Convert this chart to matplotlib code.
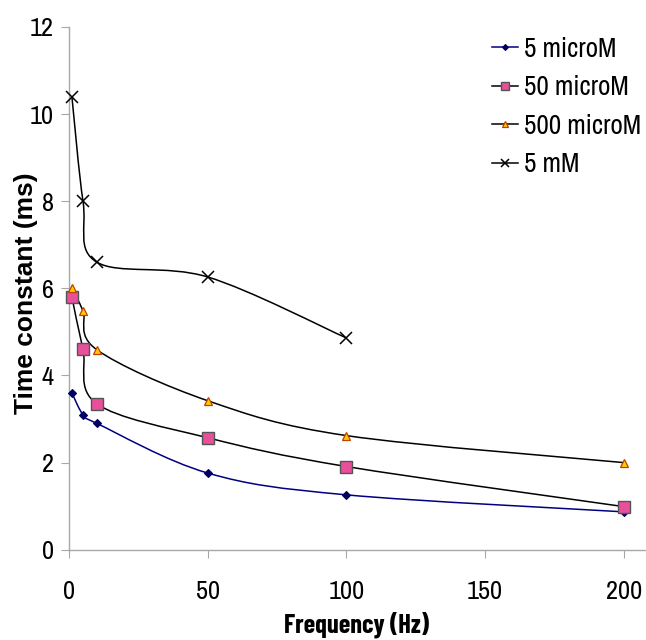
import matplotlib
matplotlib.use("Agg")
import matplotlib.pyplot as plt
from matplotlib.path import Path
from matplotlib.patches import PathPatch
from matplotlib.lines import Line2D

plt.rcParams["font.family"] = ["Archivo Narrow", "Liberation Sans", "DejaVu Sans"]

# data
freq_hz = [1, 5, 10, 50, 100, 200]
freq_5mm = [1, 5, 10, 50, 100]

tc_5um = [3.6, 3.1, 2.9, 1.76, 1.26, 0.87]
tc_50um = [5.8, 4.6, 3.35, 2.57, 1.91, 0.99]
tc_500um = [6.0, 5.48, 4.59, 3.42, 2.62, 2.0]
tc_5mm = [10.4, 8.0, 6.6, 6.26, 4.86]

series_labels = ["5 microM", "50 microM", "500 microM", "5 mM"]
x_ticks = [0, 50, 100, 150, 200]
y_ticks = [0, 2, 4, 6, 8, 10, 12]


def smooth_path(xs, ys):
    # Excel-like smoothed line: Catmull-Rom segments as cubic Bezier curves
    pts = list(zip(xs, ys))
    verts = [pts[0]]
    codes = [Path.MOVETO]
    n = len(pts)
    for i in range(n - 1):
        p0 = pts[max(i - 1, 0)]
        p1 = pts[i]
        p2 = pts[i + 1]
        p3 = pts[min(i + 2, n - 1)]
        c1 = (p1[0] + (p2[0] - p0[0]) / 6, p1[1] + (p2[1] - p0[1]) / 6)
        c2 = (p2[0] - (p3[0] - p1[0]) / 6, p2[1] - (p3[1] - p1[1]) / 6)
        verts += [c1, c2, p2]
        codes += [Path.CURVE4] * 3
    return Path(verts, codes)


fig = plt.figure(figsize=(6.46, 6.40), dpi=100)
ax = fig.add_axes([0.107, 0.141, 0.893, 0.817])

styles = [
    dict(color="#000080", marker="D", ms=4, mfc="#000060", mec="#000060", mew=0.8),
    dict(color="black", marker="s", ms=8, mfc="#e8509c", mec="#555555", mew=1.0),
    dict(color="black", marker="^", ms=6, mfc="#ffcc00", mec="#c04000", mew=0.9),
    dict(color="black", marker="x", ms=8, mfc="black", mec="black", mew=1.1),
]
xs_all = [freq_hz, freq_hz, freq_hz, freq_5mm]
ys_all = [tc_5um, tc_50um, tc_500um, tc_5mm]

handles = []
for xs, ys, st, lab in zip(xs_all, ys_all, styles, series_labels):
    ax.add_patch(PathPatch(smooth_path(xs, ys), fill=False, edgecolor=st["color"], lw=1.1, zorder=2))
    ax.plot(xs, ys, ls="none", marker=st["marker"], ms=st["ms"], mfc=st["mfc"],
            mec=st["mec"], mew=st["mew"], zorder=3, clip_on=False)
    handles.append(Line2D([], [], color=st["color"], lw=1.1, marker=st["marker"],
                          ms=st["ms"] * 0.75, mfc=st["mfc"], mec=st["mec"], mew=st["mew"]))

ax.set_xlim(0, 208)
ax.set_ylim(0, 12)
ax.set_xticks(x_ticks)
ax.set_yticks(y_ticks)

for side in ["top", "right"]:
    ax.spines[side].set_visible(False)
for side in ["left", "bottom"]:
    ax.spines[side].set_color("#a8a8a8")
    ax.spines[side].set_linewidth(1.0)

ax.tick_params(axis="both", direction="out", length=6, color="#a8a8a8", labelsize=19)
ax.tick_params(axis="x", pad=16)
ax.tick_params(axis="y", pad=5)

ax.set_xlabel("Frequency (Hz)", fontsize=19, fontweight="bold",
              family=["Barlow Condensed", "Liberation Sans", "DejaVu Sans"])
ax.xaxis.set_label_coords(0.499, -0.118)
ax.set_ylabel("Time constant (ms)", fontsize=19, fontweight="bold",
              family=["Liberation Sans", "DejaVu Sans"])
ax.yaxis.set_label_coords(-0.054, 0.491)

ax.legend(handles, series_labels, loc="upper right", bbox_to_anchor=(1.033, 1.028),
          frameon=False, fontsize=19.5, handlelength=0.95, handletextpad=0.2,
          labelspacing=0.5)

fig.savefig("out.png", dpi=100)
